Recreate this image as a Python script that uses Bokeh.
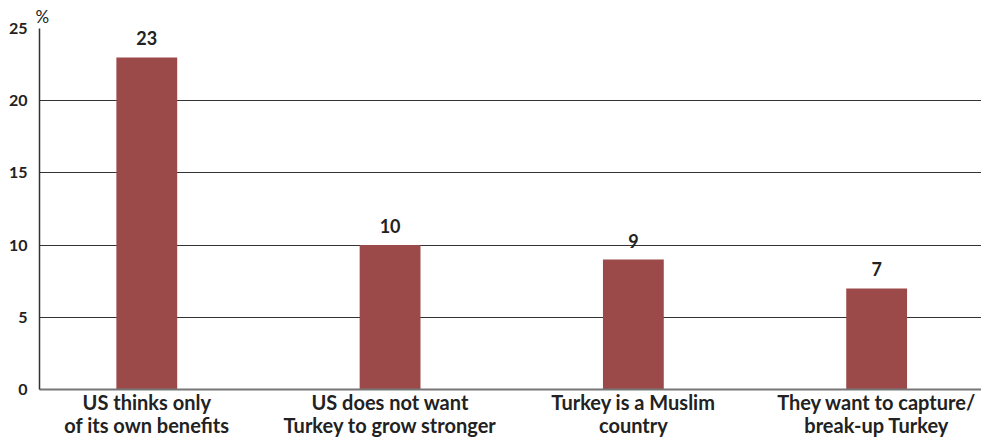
from bokeh.plotting import figure
from bokeh.models import ColumnDataSource, Range1d, FixedTicker, Title
from bokeh.core.properties import value
from bokeh.embed import file_html
from bokeh.resources import INLINE

categories = ["US thinks only\nof its own benefits", "US does not want\nTurkey to grow stronger",
              "Turkey is a Muslim\ncountry", "They want to capture/\nbreak-up Turkey"]
values = [23, 10, 9, 7]
y_ticks = [0, 5, 10, 15, 20, 25]

FONT = "Lato"
xs = list(range(len(categories)))
src = ColumnDataSource(dict(x=xs, top=values, lab=[str(v) for v in values]))

p = figure(width=981, height=439, output_backend="svg", toolbar_location=None,
           x_range=Range1d(-0.441, 3.431), y_range=Range1d(0, 25),
           min_border_left=39, min_border_right=0, min_border_top=28, min_border_bottom=0)
p.outline_line_color = None
p.background_fill_color = "white"
p.border_fill_color = "white"

p.add_layout(Title(text="%", align="left", offset=-4, text_font=FONT, text_font_size="17px",
                   text_font_style="normal", text_color="#222222", standoff=4), "above")

p.vbar(x="x", top="top", width=0.25, source=src, fill_color="#9c4a49", line_color=None)
p.text(x="x", y="top", text="lab", source=src, text_align="center", text_baseline="bottom",
       y_offset=-12, text_font=value(FONT), text_font_style="bold", text_font_size="18px",
       text_color="#222222")

p.xgrid.visible = False
p.ygrid.ticker = FixedTicker(ticks=y_ticks)
p.ygrid.grid_line_color = "#333333"
p.ygrid.grid_line_width = 1

for ax in (p.xaxis[0], p.yaxis[0]):
    ax.major_tick_line_color = None
    ax.minor_tick_line_color = None
    ax.major_tick_out = 0
    ax.major_tick_in = 0
    ax.minor_tick_out = 0
    ax.minor_tick_in = 0
    ax.axis_label_standoff = 0

p.yaxis.ticker = FixedTicker(ticks=y_ticks)
p.yaxis.axis_line_color = "#333333"
p.yaxis.axis_line_width = 1.5
p.yaxis.major_label_text_font = FONT
p.yaxis.major_label_text_font_style = "bold"
p.yaxis.major_label_text_font_size = "16px"
p.yaxis.major_label_text_color = "#222222"
p.yaxis.major_label_standoff = 12

p.xaxis.ticker = FixedTicker(ticks=xs)
p.xaxis.major_label_overrides = {i: c for i, c in zip(xs, categories)}
p.xaxis.axis_line_color = "#777777"
p.xaxis.axis_line_width = 2
p.xaxis.major_label_text_font = FONT
p.xaxis.major_label_text_font_style = "bold"
p.xaxis.major_label_text_font_size = "20px"
p.xaxis.major_label_text_line_height = 0.97
p.xaxis.major_label_text_color = "#222222"
p.xaxis.major_label_standoff = 0

open("out.html", "w").write(file_html(p, INLINE))
